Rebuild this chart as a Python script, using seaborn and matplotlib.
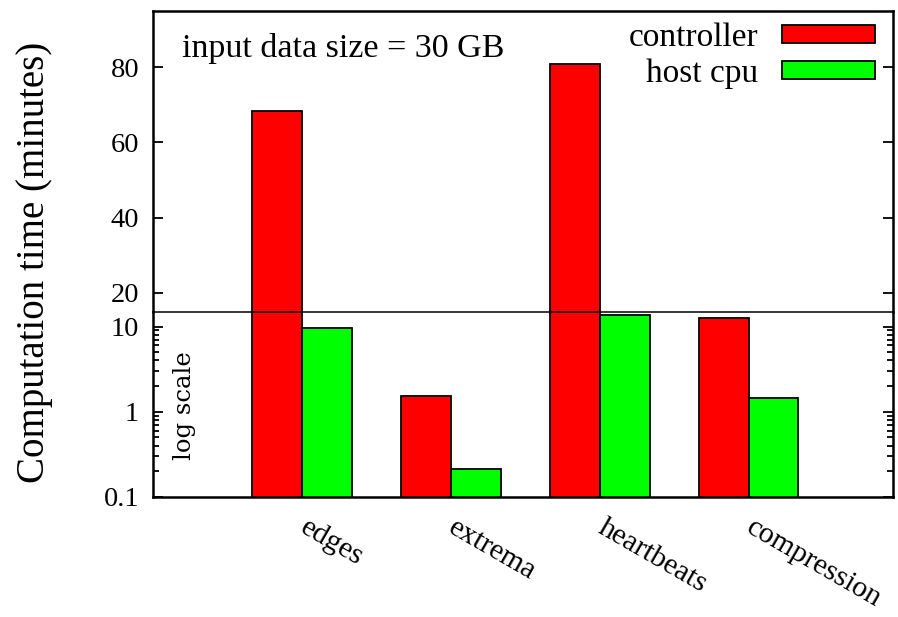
import matplotlib
matplotlib.use("Agg")
import matplotlib.pyplot as plt
import seaborn as sns
import pandas as pd
from matplotlib.ticker import FixedLocator, LogLocator, NullFormatter

# ── data (minutes) ─────────────────────────────────────────────────────────
tasks = ["edges", "extrema", "heartbeats", "compression"]
controller = [68.5, 1.52, 81.0, 12.7]
host_cpu = [9.7, 0.212, 13.7, 1.46]
series = ["controller", "host cpu"]
colors = {"controller": "#ff0000", "host cpu": "#00ff00"}

BREAK = 15      # below: log scale, above: linear
Y_TOP = 95
Y_BOT = 0.1

df = pd.DataFrame({
    "task": tasks * 2,
    "series": ["controller"] * len(tasks) + ["host cpu"] * len(tasks),
    "minutes": controller + host_cpu,
})

sns.set_style("ticks")
plt.rcParams["font.family"] = ["Liberation Serif", "DejaVu Serif"]
plt.rcParams["font.size"] = 19
for key in ("text.color", "axes.labelcolor", "xtick.color", "ytick.color"):
    plt.rcParams[key] = "black"

W, H = 898, 617
fig = plt.figure(figsize=(W / 100, H / 100), dpi=100)

left, right = 153 / W, 893 / W
y_break = 1 - 311.5 / H
y_top = 1 - 11 / H
y_bottom = 1 - 497 / H
ax_lin = fig.add_axes([left, y_break, right - left, y_top - y_break])
ax_log = fig.add_axes([left, y_bottom, right - left, y_break - y_bottom])

ax_log.set_yscale("log")

for ax in (ax_lin, ax_log):
    sns.barplot(data=df, x="task", y="minutes", hue="series", hue_order=series,
                palette=colors, width=0.67, edgecolor="black", linewidth=1.3,
                saturation=1, ax=ax, legend=(ax is ax_log))
    ax.set_xlim(-1, 3.97)
    ax.set_xlabel("")
    ax.set_ylabel("")
    for s in ax.spines.values():
        s.set_linewidth(1.8)
        s.set_color("black")
    ax.tick_params(axis="y", which="both", direction="in", left=True, right=True,
                   width=1.3, colors="black", labelsize=20.5, pad=10)
    ax.tick_params(axis="y", which="major", length=7)
    ax.tick_params(axis="y", which="minor", length=4)

# top part: linear
ax_lin.set_ylim(BREAK, Y_TOP)
ax_lin.yaxis.set_major_locator(FixedLocator([20, 40, 60, 80]))
ax_lin.set_xticks([])
ax_lin.spines["bottom"].set_visible(False)
ax_lin.text(0.039, 0.875, "input data size = 30 GB", transform=ax_lin.transAxes,
            ha="left", va="center", fontsize=24.5)

# bottom part: log
ax_log.set_ylim(Y_BOT, BREAK)
ax_log.spines["top"].set_linewidth(1.1)
ax_log.patch.set_visible(False)
ax_log.yaxis.set_major_locator(FixedLocator([0.1, 1, 10]))
ax_log.set_yticklabels(["0.1", "1", "10"])
ax_log.yaxis.set_minor_locator(LogLocator(base=10, subs=range(2, 10)))
ax_log.yaxis.set_minor_formatter(NullFormatter())
ax_log.tick_params(axis="x", length=0, pad=21, labelsize=21.5)
for lbl in ax_log.get_xticklabels():
    lbl.set_rotation(-30)
    lbl.set_ha("left")
    lbl.set_va("center")
    lbl.set_rotation_mode("anchor")
ax_log.text(0.043, 0.49, "log scale", transform=ax_log.transAxes, rotation=90,
            ha="center", va="center", fontsize=17.5, family="DejaVu Serif")

# legend goes in the top panel
handles, labels = ax_log.get_legend_handles_labels()
ax_log.get_legend().remove()
ax_lin.legend(handles, labels, loc="upper right", bbox_to_anchor=(0.976, 0.962),
              frameon=False, markerfirst=False, handlelength=2.8,
              handleheight=0.45, handletextpad=0.7, labelspacing=0.16,
              fontsize=24, borderaxespad=0.0, borderpad=0.0)

fig.text(0.038, 1 - 262 / H, "Computation time (minutes)", rotation=90,
         ha="center", va="center", fontsize=28)

fig.savefig("out.png", dpi=100)
